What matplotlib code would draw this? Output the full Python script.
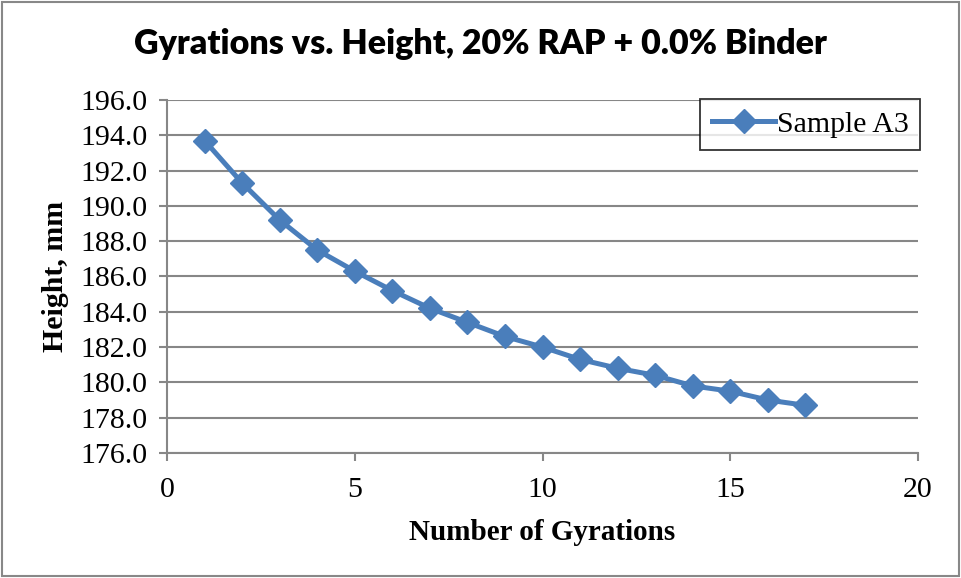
import matplotlib.pyplot as plt
from matplotlib.patches import Rectangle

# gyration count vs specimen height
gyrations = [1, 2, 3, 4, 5, 6, 7, 8, 9, 10, 11, 12, 13, 14, 15, 16, 17]
height_mm = [193.7, 191.3, 189.2, 187.5, 186.3, 185.2, 184.2, 183.4, 182.6,
             182.0, 181.3, 180.8, 180.4, 179.8, 179.5, 179.0, 178.7]
x_ticks = [0, 5, 10, 15, 20]
y_ticks = [176.0, 178.0, 180.0, 182.0, 184.0, 186.0, 188.0, 190.0, 192.0, 194.0, 196.0]

line_col = '#4A7EBB'
grid_col = '#878787'
serif = ['Liberation Serif', 'DejaVu Serif']

fig = plt.figure(figsize=(9.61, 5.78), dpi=100)
ax = fig.add_axes([0.1738, 0.2163, 0.9553 - 0.1738, 0.827 - 0.2163])

ax.plot(gyrations, height_mm, color=line_col, lw=3.6, marker='D', ms=12.5,
        label='Sample A3', zorder=3, clip_on=False)

ax.set_xlim(0, 20)
ax.set_ylim(176, 196)
ax.set_xticks(x_ticks)
ax.set_yticks(y_ticks)
ax.set_yticklabels(['%.1f' % v for v in y_ticks])
ax.yaxis.grid(True, color=grid_col, lw=1.5)
ax.set_axisbelow(True)

for s in ['top', 'right']:
    ax.spines[s].set_visible(False)
for s in ['left', 'bottom']:
    ax.spines[s].set_color(grid_col)
    ax.spines[s].set_linewidth(1.5)
ax.tick_params(axis='both', direction='out', length=6, width=1.5, color=grid_col,
               labelsize=21.5)
for lab in ax.get_xticklabels() + ax.get_yticklabels():
    lab.set_family(serif)
ax.tick_params(axis='x', pad=11)
ax.tick_params(axis='y', pad=8)

ax.set_xlabel('Number of Gyrations', family=serif, fontsize=21, fontweight='bold', labelpad=12)
ax.set_ylabel('Height, mm', family=serif, fontsize=21.5, fontweight='bold', labelpad=8)

fig.suptitle('Gyrations vs. Height, 20% RAP + 0.0% Binder', x=0.5, y=0.952,
             family=['Lato', 'DejaVu Sans'], fontsize=24.5, fontweight='heavy')

leg = ax.legend(loc='upper right', bbox_to_anchor=(1.003, 1.003), prop={'family': serif, 'size': 21.5},
                frameon=True, fancybox=False, borderpad=0.4, handlelength=2.1,
                handletextpad=0.05, borderaxespad=0)
leg.get_frame().set_edgecolor('black')
leg.get_frame().set_linewidth(1.3)

# outer chart border
fig.patches.append(Rectangle((0.002, 0.003), 0.996, 0.994, transform=fig.transFigure,
                             fill=False, edgecolor='#888888', lw=1.5))

fig.savefig('out.png', dpi=100)
